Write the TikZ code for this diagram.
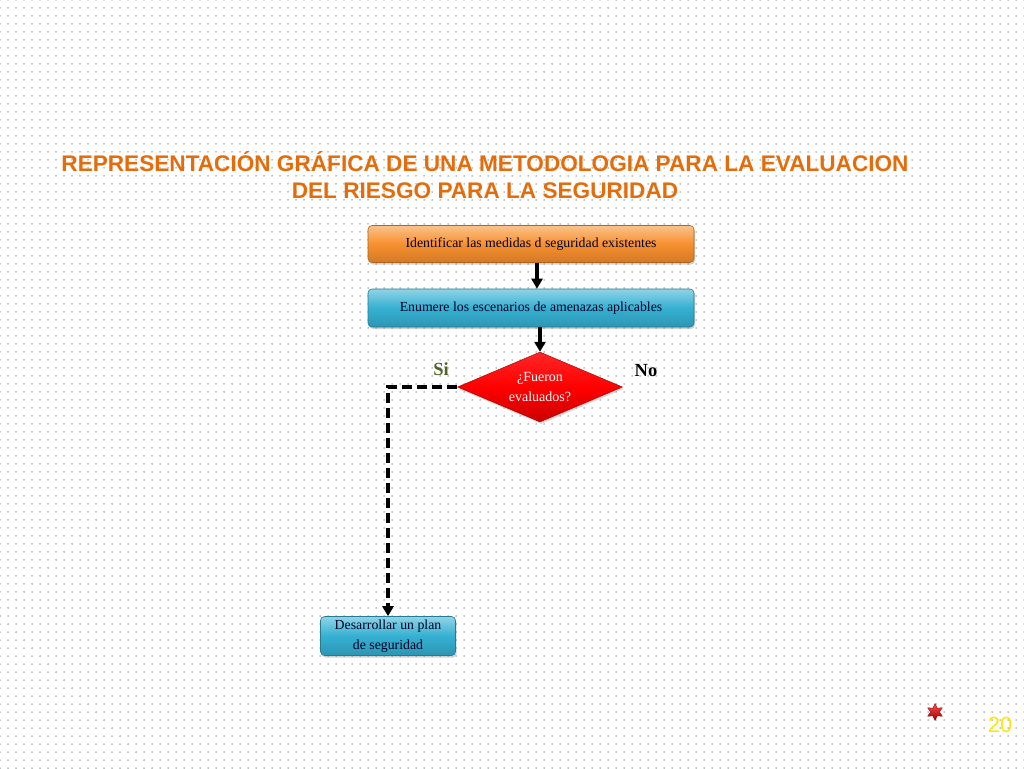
\documentclass[tikz,border=0pt]{standalone}
\usepackage{fontspec}
\setmainfont{Liberation Serif}
\newfontfamily\titlefont{Liberation Sans}
\usetikzlibrary{shapes.geometric,shadows,arrows.meta,patterns.meta,positioning}

\definecolor{tituloorange}{HTML}{E46C0A}
\definecolor{cajaorange}{HTML}{F7902E}
\definecolor{cajaazul}{HTML}{35B0D2}
\definecolor{siverde}{HTML}{4F6228}
\definecolor{puntos}{HTML}{7C828E}

\tikzset{
  caja/.style={rectangle, rounded corners=4pt, draw=#1!70!black, line width=0.6pt,
    minimum height=37pt, inner sep=2pt, font=\fontsize{13.8}{20}\selectfont,
    text=black!85!blue,
    top color=#1!55!white, bottom color=#1!85!black, middle color=#1,
    drop shadow={shadow xshift=1pt, shadow yshift=-2pt, opacity=0.35}},
  decision/.style={diamond, aspect=2.36, minimum width=165pt, minimum height=70pt,
    inner sep=0pt, draw=red!60!black, line width=0.4pt,
    top color=red!85!white, bottom color=red!80!black, middle color=red,
    text=white, align=center, font=\fontsize{14}{20}\selectfont,
    drop shadow={shadow xshift=1pt, shadow yshift=-2pt, opacity=0.3}},
  flecha/.style={line width=3.4pt, -{Triangle[length=10pt,width=11pt]}},
  flechasi/.style={flecha, dash pattern=on 10pt off 5pt}
}

\begin{document}
\begin{tikzpicture}[x=1pt,y=-1pt]
\useasboundingbox (0,0) rectangle (1024,768);
\fill[white] (0,0) rectangle (1024,768);
\fill[pattern={Dots[distance=8pt,radius=0.75pt]}, pattern color=puntos] (0,0) rectangle (1024,768);
% titulo
\node (titulo) at (485,175) [text=tituloorange, align=center,
  font=\titlefont\bfseries\fontsize{22.6}{27}\selectfont]
  {REPRESENTACI\'ON GR\'AFICA DE UNA METODOLOGIA PARA LA EVALUACION\\
   DEL RIESGO PARA LA SEGURIDAD};
% cajas
\node (medidas) at (531,244) [caja=cajaorange, minimum width=326pt] {Identificar las medidas d seguridad existentes};
\node (escenarios) at (531,308) [caja=cajaazul, minimum width=326pt, minimum height=38pt] {Enumere los escenarios de amenazas aplicables};
\node (evaluados) at (540,387) [decision] {¿Fueron\\evaluados?};
\node (plan) at (388,636) [caja=cajaazul, minimum width=135pt, minimum height=39pt, align=center] {Desarrollar un plan\\de seguridad};
% etiquetas
\node (si) at (441,369) [text=siverde, font=\bfseries\fontsize{18.5}{18.5}\selectfont] {Si};
\node (no) at (646,371) [font=\bfseries\fontsize{18.5}{18.5}\selectfont] {No};
% conectores
\draw[flecha] ([xshift=6pt]medidas.south) -- ([xshift=6pt]escenarios.north);
\draw[flecha] (escenarios.south -| evaluados.north) -- (evaluados.north);
\draw[flechasi] (evaluados.west) -| (plan.north);
% pie
\node (estrella) at (935,712) [star, star points=6, star point ratio=1.9, minimum size=17pt, inner sep=0pt,
  draw=red!50!black, line width=0.3pt, top color=red!70!white, bottom color=red!60!black] {};
\node (pagina) at (1000,725) [text=yellow!90!orange, font=\titlefont\fontsize{22}{22}\selectfont] {20};
\end{tikzpicture}
\end{document}
